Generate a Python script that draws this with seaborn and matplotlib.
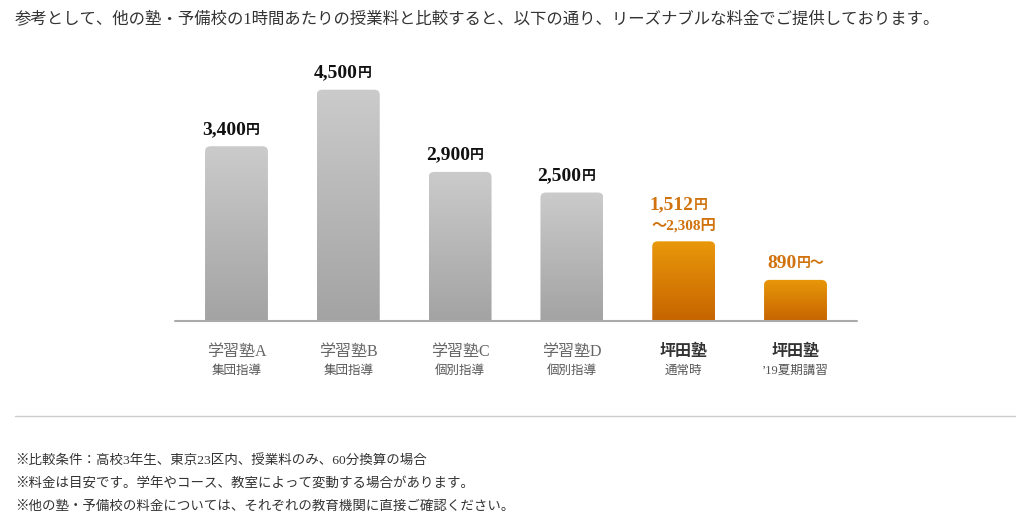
import matplotlib
matplotlib.use('Agg')
import matplotlib.pyplot as plt
import matplotlib.transforms as mtransforms
from matplotlib.patches import FancyBboxPatch
import numpy as np
import pandas as pd
import seaborn as sns

# データ
schools = ['学習塾A', '学習塾B', '学習塾C', '学習塾D', '坪田塾', '坪田塾 ']
sublabels = ['集団指導', '集団指導', '個別指導', '個別指導', '通常時', '’19夏期講習']
bar_heights = [3400, 4500, 2900, 2500, 1550, 800]
price_main = ['3,400', '4,500', '2,900', '2,500', '1,512', '890']
price_unit = ['円', '円', '円', '円', '円', '円～']
price_extra = ['', '', '', '', '～2,308円', '']
is_ours = [False, False, False, False, True, True]

header = '参考として、他の塾・予備校の1時間あたりの授業料と比較すると、以下の通り、リーズナブルな料金でご提供しております。'
notes = ['※比較条件：高校3年生、東京23区内、授業料のみ、60分換算の場合',
         '※料金は目安です。学年やコース、教室によって変動する場合があります。',
         '※他の塾・予備校の料金については、それぞれの教育機関に直接ご確認ください。']

sns.set_theme(style='white')
FONT = ['Liberation Serif', 'Noto Sans CJK JP']
plt.rcParams['font.family'] = FONT

df = pd.DataFrame({'school': schools, 'price': bar_heights})

fig = plt.figure(figsize=(10.24, 5.24), dpi=100)
ax = fig.add_axes([175 / 1024, 1 - 321 / 524, 682 / 1024, 257 / 524])
sns.barplot(data=df, x='school', y='price', ax=ax, width=0.5625, color='#bbbbbb')

# 角丸・グラデーションのバーに置き換え
grad = np.linspace(0, 1, 256).reshape(-1, 1)
for p, ours in zip(list(ax.patches), is_ours):
    x0, w, h = p.get_x(), p.get_width(), p.get_height()
    p.set_visible(False)
    box = FancyBboxPatch((x0, -200), w, h + 200,
                         boxstyle='round,pad=0,rounding_size=0.05',
                         mutation_aspect=2000, facecolor='none', edgecolor='none')
    ax.add_patch(box)
    if ours:
        cmap = matplotlib.colors.LinearSegmentedColormap.from_list('o', ['#c66400', '#e9980a'])
    else:
        cmap = matplotlib.colors.LinearSegmentedColormap.from_list('g', ['#a3a3a3', '#cbcbcb'])
    im = ax.imshow(grad, cmap=cmap, extent=[x0, x0 + w, 0, h], origin='lower',
                   aspect='auto', zorder=2)
    im.set_clip_path(box)

ax.set_xlim(-0.55, 5.55)
ax.set_ylim(0, 5000)
ax.axhline(0, color='#aaaaaa', lw=1.5, zorder=3, clip_on=False)

# 値ラベル
for i, h in enumerate(bar_heights):
    col = '#d0730f' if is_ours[i] else '#111111'
    off = 20 if price_extra[i] else 6
    dx = 1 if (is_ours[i] and not price_extra[i]) else 7
    ax.annotate(price_main[i], (i, h), xytext=(dx, off),
                textcoords='offset points', ha='right', va='bottom',
                fontsize=14, fontweight='bold', color=col, family=FONT)
    ax.annotate(price_unit[i], (i, h), xytext=(dx, off + 1),
                textcoords='offset points', ha='left', va='bottom',
                fontsize=10, fontweight='bold', color=col, family=FONT)
    if price_extra[i]:
        ax.annotate(price_extra[i], (i, h), xytext=(0, 6), textcoords='offset points',
                    ha='center', va='bottom', fontsize=11, fontweight='bold',
                    color=col, family=FONT)

# x軸ラベル
ax.set_xticks(range(len(schools)))
ax.set_xticklabels([])
ax.set_xlabel('')
ax.set_ylabel('')
ax.set_yticks([])
trans = mtransforms.blended_transform_factory(ax.transData, fig.transFigure)
for i in range(len(schools)):
    ours = is_ours[i]
    ax.text(i, 1 - 352 / 524, schools[i].strip(), transform=trans, ha='center', va='center',
            fontsize=11.5, color='#333333' if ours else '#666666',
            fontweight='bold' if ours else 'normal', family=FONT)
    ax.text(i, 1 - 371 / 524, sublabels[i], transform=trans, ha='center', va='center',
            fontsize=9, color='#555555', family=FONT)
sns.despine(ax=ax, left=True, bottom=True)

# 見出し・注記
fig.text(15 / 1024, 1 - 19 / 524, header, ha='left', va='center', fontsize=11.8,
         color='#333333', family=FONT)
fig.add_artist(plt.Line2D([15 / 1024, 1015 / 1024], [1 - 416 / 524] * 2, color='#cccccc', lw=1))
for k, line in enumerate(notes):
    fig.text(15 / 1024, 1 - (460 + 23.5 * k) / 524, line, ha='left', va='center',
             fontsize=9.7, color='#333333', family=FONT)

fig.savefig('out.png', dpi=100)
